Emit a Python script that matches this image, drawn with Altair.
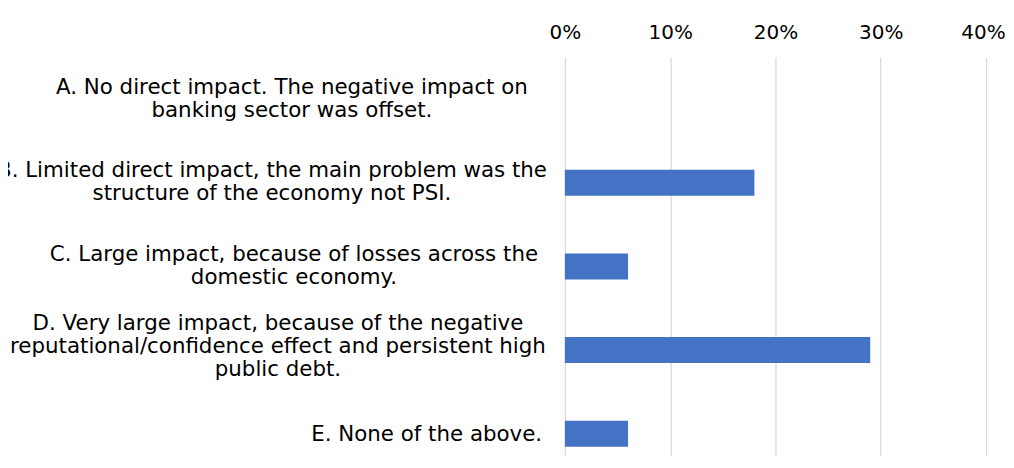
import altair as alt
import pandas as pd

categories = [
    "A. No direct impact. The negative impact on|banking sector was offset.",
    "B. Limited direct impact, the main problem was the|structure of the economy not PSI.",
    "C. Large impact, because of losses across the|domestic economy.",
    "D. Very large impact, because of the negative|reputational/confidence effect and persistent high|public debt.",
    "E. None of the above.",
]
shares = [0.0, 0.18, 0.06, 0.29, 0.06]
tick_values = [0, 0.1, 0.2, 0.3, 0.4]

df = pd.DataFrame({"option": categories, "share": shares})

label_pad = {
    "condition": [
        {"test": "substring(datum.value, 0, 1) === 'A'", "value": 274},
        {"test": "substring(datum.value, 0, 1) === 'B'", "value": 294},
        {"test": "substring(datum.value, 0, 1) === 'C'", "value": 272},
        {"test": "substring(datum.value, 0, 1) === 'D'", "value": 288},
    ],
    "value": 139,
}

label_shift = {
    "condition": [
        {"test": "substring(datum.value, 0, 1) === 'D'", "value": -26},
        {"test": "substring(datum.value, 0, 1) === 'E'", "value": 1.5},
    ],
    "value": -11.5,
}

x_label_shift = {
    "condition": {"test": "datum.value >= 0.39", "value": -3},
    "value": 0,
}

chart = (
    alt.Chart(df)
    .mark_bar(color="#4472C4")
    .encode(
        x=alt.X(
            "share:Q",
            scale=alt.Scale(domain=[0, 0.4], nice=False),
            axis=alt.Axis(
                orient="top",
                format=".0%",
                values=tick_values,
                title=None,
                domain=False,
                ticks=False,
                grid=True,
                gridColor="#d9d9d9",
                gridWidth=1.3,
                labelFontSize=20,
                labelColor="#000000",
                labelPadding=15,
                labelFlush=False,
                labelOffset=x_label_shift,
            ),
        ),
        y=alt.Y(
            "option:N",
            sort=categories,
            scale=alt.Scale(range=[0, 419], paddingInner=0.69, paddingOuter=0.345),
            axis=alt.Axis(
                title=None,
                domain=False,
                ticks=False,
                grid=False,
                labelExpr="split(datum.label, '|')",
                labelAlign="center",
                labelBaseline="middle",
                labelFontSize=21.4,
                labelLineHeight=23,
                labelColor="#000000",
                labelLimit=0,
                labelPadding=label_pad,
                labelOffset=label_shift,
            ),
        ),
    )
    .properties(
        width=422,
        height=399,
        autosize="none",
        padding={"left": 558, "top": 49, "right": 20, "bottom": 0},
    )
    .configure(font="DejaVu Sans")
    .configure_view(stroke=None)
)

chart.save("out.html", embed_options={"renderer": "svg", "actions": False})
